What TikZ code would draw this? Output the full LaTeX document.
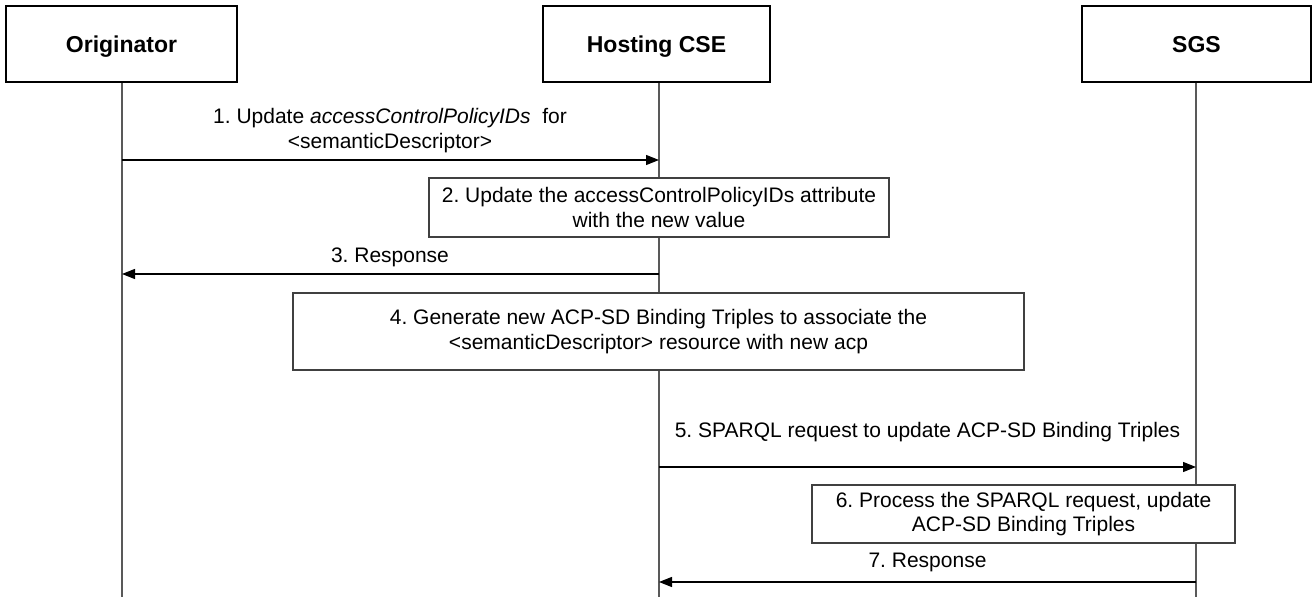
\documentclass[tikz,border=0pt]{standalone}
\usepackage{fontspec}
\setmainfont{Liberation Sans}
\usetikzlibrary{arrows.meta}
\frenchspacing
\begin{document}
\begin{tikzpicture}[x=1pt,y=-1pt,
  head/.style={draw=black,line width=2.4pt,fill=white,minimum height=76pt,inner sep=0pt,
    text depth=0pt,font=\fontsize{23}{26}\selectfont\bfseries},
  life/.style={draw=black!65,line width=1.2pt},
  actbox/.style={draw=black!75,line width=1.2pt,fill=white,inner sep=0pt,align=center,
    font=\fontsize{21}{24.5}\selectfont},
  msg/.style={draw=black,line width=1.2pt,-{Triangle[length=13pt,width=10pt]}},
  lbl/.style={font=\fontsize{21}{24.5}\selectfont,align=center,inner sep=0pt}]
\useasboundingbox (0,0) rectangle (1313,597);
% lifelines
\coordinate (oB) at (122,597);
\coordinate (hB) at (659,597);
\coordinate (sB) at (1196,597);
\node[head,minimum width=231pt] (orig) at (121.5,44) {Originator};
\node[head,minimum width=227pt] (host) at (656.5,44) {Hosting CSE};
\node[head,minimum width=229pt] (sgs) at (1196.5,44) {SGS};
\draw[life] (orig.south -| oB) -- (oB);
\draw[life] (host.south -| hB) -- (hB);
\draw[life] (sgs.south -| sB) -- (sB);
% message points
\coordinate (o1) at (122,160); \coordinate (h1) at (659,160);
\coordinate (o3) at (122,274); \coordinate (h3) at (659,274);
\coordinate (h5) at (659,467); \coordinate (s5) at (1196,467);
\coordinate (h7) at (659,582); \coordinate (s7) at (1196,582);
% 1
\draw[msg] (o1) -- (h1);
\node[lbl,anchor=base] (t1a) at (390,123) {1. Update \textit{accessControlPolicyIDs}\ \ for};
\node[lbl,anchor=base] (t1b) at (390,148) {<semanticDescriptor>};
% 2
\node[actbox,minimum width=460pt,minimum height=59pt] (b2) at (659,207.5)
  {2. Update the accessControlPolicyIDs attribute\\with the new value};
% 3
\draw[msg] (h3) -- (o3);
\node[lbl,anchor=base] (t3) at (390,262) {3. Response};
% 4
\node[actbox,minimum width=731pt,minimum height=77pt] (b4) at (658.5,331.5)
  {4. Generate new ACP-SD Binding Triples to associate the\\<semanticDescriptor> resource with new acp};
% 5
\draw[msg] (h5) -- (s5);
\node[lbl,anchor=base] (t5) at (927.5,437) {5. SPARQL request to update ACP-SD Binding Triples};
% 6
\node[actbox,minimum width=423pt,minimum height=58pt] (b6) at (1023.5,514)
  {6. Process the SPARQL request, update\\ACP-SD Binding Triples};
% 7
\draw[msg] (s7) -- (h7);
\node[lbl,anchor=base] (t7) at (927.5,567) {7. Response};
\end{tikzpicture}
\end{document}
